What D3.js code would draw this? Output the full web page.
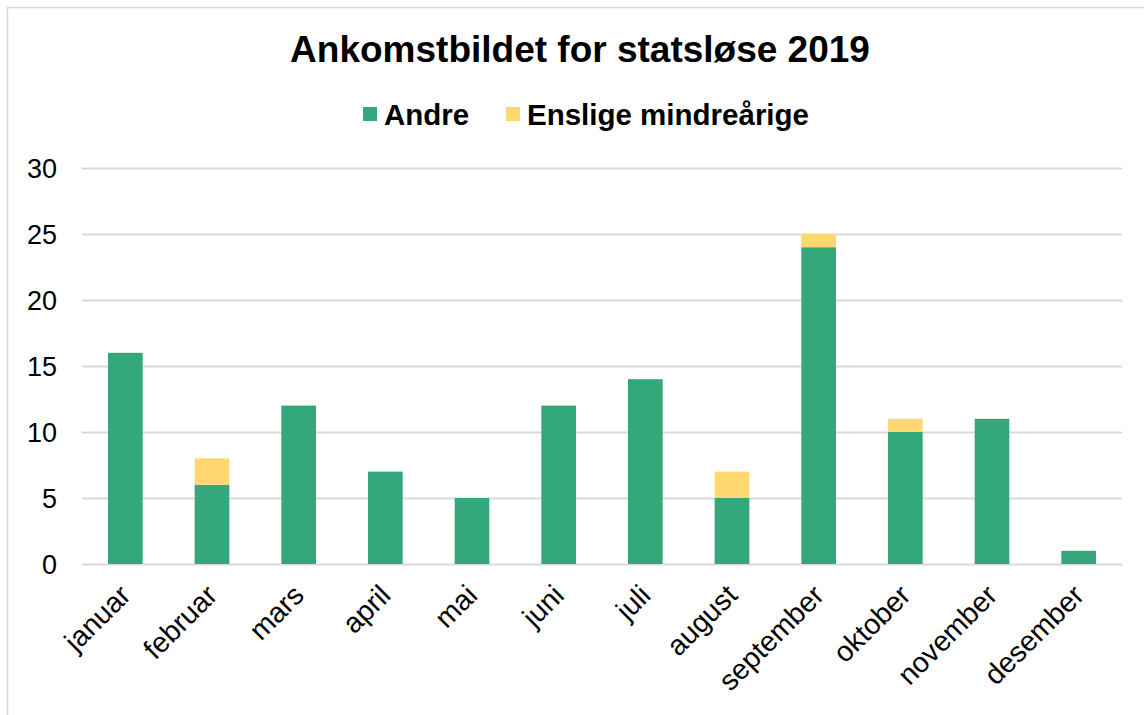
<!DOCTYPE html>
<html>
<head>
<meta charset="utf-8">
<script src="https://cdn.jsdelivr.net/npm/d3@7"></script>
<style>
  body { margin: 0; background: #fff; }
  svg { font-family: "Liberation Sans", Arial, sans-serif; }
</style>
</head>
<body>
<script>
const months = ["januar", "februar", "mars", "april", "mai", "juni", "juli",
  "august", "september", "oktober", "november", "desember"];
const andre = [16, 6, 12, 7, 5, 12, 14, 5, 24, 10, 11, 1];
const enslige = [0, 2, 0, 0, 0, 0, 0, 2, 1, 1, 0, 0];
const seriesNames = ["Andre", "Enslige mindreårige"];
const yTicks = [0, 5, 10, 15, 20, 25, 30];

const width = 1144;
const height = 715;
const margin = { top: 168, right: 22, bottom: 151, left: 82 };
const colors = ["#34a77b", "#ffd76f"];

const data = months.map((m, i) => ({ month: m, Andre: andre[i], "Enslige mindreårige": enslige[i] }));

const svg = d3.select("body").append("svg")
  .attr("width", width)
  .attr("height", height);

// outer chart frame
svg.append("rect")
  .attr("x", 7.5).attr("y", 7.5)
  .attr("width", width).attr("height", height)
  .attr("fill", "#fff")
  .attr("stroke", "#d9d9d9")
  .attr("stroke-width", 1.5);

const x = d3.scaleBand()
  .domain(months)
  .range([margin.left, width - margin.right])
  .paddingInner(0.6)
  .paddingOuter(0.3);

const y = d3.scaleLinear()
  .domain([0, 30])
  .range([height - margin.bottom, margin.top]);

// gridlines
svg.append("g")
  .selectAll("line")
  .data(yTicks)
  .join("line")
  .attr("x1", margin.left)
  .attr("x2", width - margin.right)
  .attr("y1", d => Math.round(y(d)) + 0.5)
  .attr("y2", d => Math.round(y(d)) + 0.5)
  .attr("stroke", "#d9d9d9")
  .attr("stroke-width", 2);

// y tick labels
svg.append("g")
  .selectAll("text")
  .data(yTicks)
  .join("text")
  .attr("x", 57)
  .attr("y", d => y(d))
  .attr("dy", "0.36em")
  .attr("text-anchor", "end")
  .attr("font-size", 27)
  .attr("fill", "#000")
  .text(d => d);

const stack = d3.stack().keys(seriesNames);
const layers = stack(data);

svg.append("g")
  .selectAll("g")
  .data(layers)
  .join("g")
  .attr("fill", (d, i) => colors[i])
  .selectAll("rect")
  .data(d => d)
  .join("rect")
  .attr("x", d => x(d.data.month))
  .attr("width", x.bandwidth())
  .attr("y", d => y(d[1]))
  .attr("height", d => y(d[0]) - y(d[1]));

// month labels, rotated
svg.append("g")
  .selectAll("text")
  .data(months)
  .join("text")
  .attr("transform", d => `translate(${x(d) + x.bandwidth() / 2 + 7},${height - margin.bottom + 33}) rotate(-45)`)
  .attr("text-anchor", "end")
  .attr("font-size", 28.5)
  .attr("fill", "#000")
  .text(d => d);

// title
svg.append("text")
  .attr("x", 580)
  .attr("y", 62)
  .attr("text-anchor", "middle")
  .attr("font-size", 37)
  .attr("font-weight", "bold")
  .text("Ankomstbildet for statsløse 2019");

// legend
const legend = svg.append("g");
const legendPos = [363, 506];
seriesNames.forEach((name, i) => {
  legend.append("rect")
    .attr("x", legendPos[i])
    .attr("y", 107)
    .attr("width", 14)
    .attr("height", 14)
    .attr("fill", colors[i]);
  legend.append("text")
    .attr("x", legendPos[i] + 21)
    .attr("y", 125)
    .attr("font-size", 29.5)
    .attr("font-weight", "bold")
    .text(name);
});
</script>
</body>
</html>
